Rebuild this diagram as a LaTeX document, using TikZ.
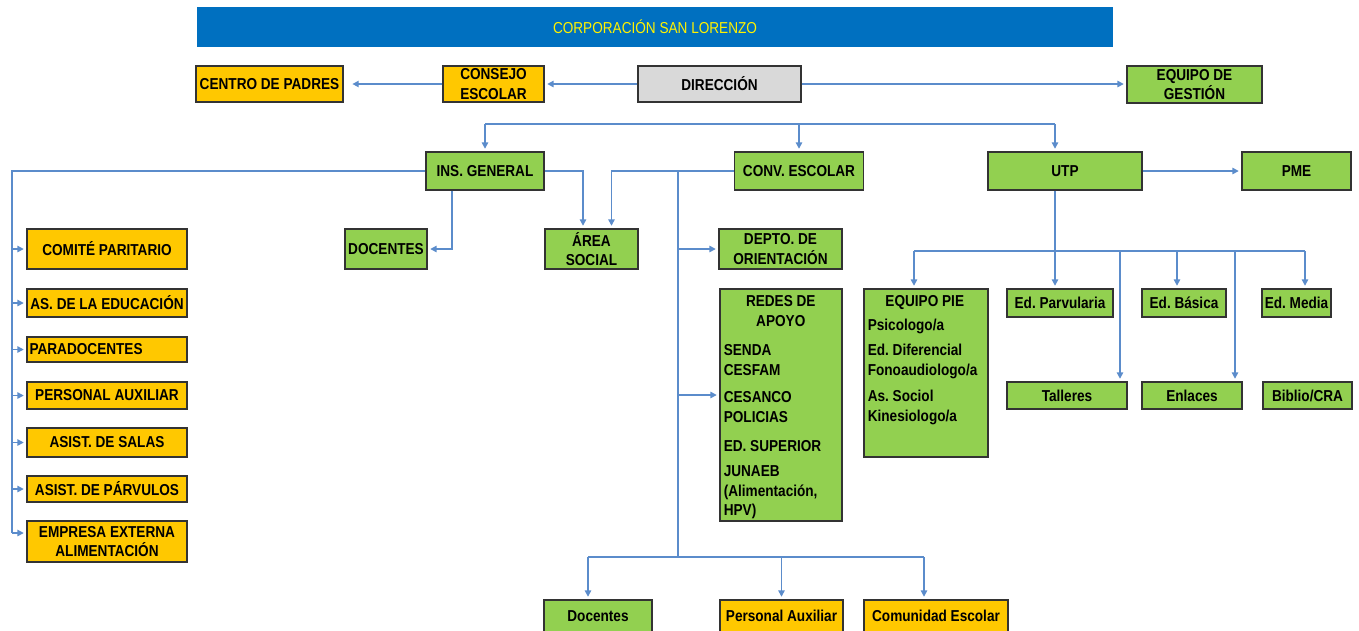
\documentclass[tikz,border=0pt]{standalone}
\usepackage{fontspec}
\setmainfont{Liberation Sans}[FakeStretch=0.86]
\usetikzlibrary{arrows.meta,calc}
\definecolor{OrgBlue}{HTML}{0070C0}
\definecolor{OrgYel}{HTML}{FFC800}
\definecolor{OrgGrn}{HTML}{92D050}
\definecolor{OrgGry}{HTML}{D9D9D9}
\definecolor{OrgLine}{HTML}{5B8CCB}
\frenchspacing

\begin{document}
\begin{tikzpicture}[
  x=0.02cm,y=-0.02cm,
  font=\bfseries\fontsize{9}{11}\selectfont,
  b/.style={draw=black!80,line width=0.7pt,inner sep=1pt,align=center,text=black},
  yel/.style={b,fill=OrgYel},
  grn/.style={b,fill=OrgGrn},
  gris/.style={b,fill=OrgGry},
  list/.style={anchor=north west,align=left,inner xsep=2.3pt,inner ysep=3.8pt,
    text width=2.28cm,font=\bfseries\fontsize{9}{11.3}\selectfont},
  ln/.style={draw=OrgLine,line width=0.8pt},
  ar/.style={ln,-{Triangle[length=3.6pt,width=3.6pt]},shorten >=1.5pt},
]
\useasboundingbox (0,0) rectangle (1359,630);
% header and top row
\node[fill=OrgBlue,minimum width=18.32cm,minimum height=0.8cm,text=yellow,
  font=\fontsize{9}{11}\selectfont] (corp) at (655,27) {CORPORACIÓN SAN LORENZO};
\node[yel,minimum width=2.94cm,minimum height=0.72cm] (padres) at (269.5,84) {CENTRO DE PADRES};
\node[yel,minimum width=2.02cm,minimum height=0.72cm] (consejo) at (493.5,84) {CONSEJO\\ESCOLAR};
\node[gris,minimum width=3.26cm,minimum height=0.72cm] (direccion) at (719.5,84) {DIRECCIÓN};
\node[grn,minimum width=2.70cm,minimum height=0.74cm] (gestion) at (1194.5,84.5) {EQUIPO DE\\GESTIÓN};
% second row
\node[grn,minimum width=2.36cm,minimum height=0.76cm] (insgen) at (485,171) {INS. GENERAL};
\node[grn,minimum width=2.58cm,minimum height=0.76cm] (conv) at (799,171) {CONV. ESCOLAR};
\node[grn,minimum width=3.08cm,minimum height=0.76cm] (utp) at (1065,171) {UTP};
\node[grn,minimum width=2.18cm,minimum height=0.76cm] (pme) at (1296.5,171) {PME};
% staff column on the left
\node[yel,minimum width=3.2cm,minimum height=0.80cm] (comite) at (107,249) {COMITÉ PARITARIO};
\node[yel,minimum width=3.2cm,minimum height=0.56cm] (aseduc) at (107,303) {AS. DE LA EDUCACIÓN};
\node[yel,text width=3.1cm,inner xsep=0.05cm,align=left,minimum height=0.50cm] (paradoc) at (107,349.5) {PARADOCENTES};
\node[yel,minimum width=3.2cm,minimum height=0.54cm] (persaux) at (107,395.5) {PERSONAL AUXILIAR};
\node[yel,minimum width=3.2cm,minimum height=0.58cm] (salas) at (107,442.5) {ASIST. DE SALAS};
\node[yel,minimum width=3.2cm,minimum height=0.52cm] (parvulos) at (107,489) {ASIST. DE PÁRVULOS};
\node[yel,minimum width=3.2cm,minimum height=0.82cm] (empresa) at (107,541.5) {EMPRESA EXTERNA\\ALIMENTACIÓN};
% middle
\node[grn,minimum width=1.64cm,minimum height=0.8cm] (docentes) at (386,249) {DOCENTES};
\node[grn,minimum width=1.86cm,minimum height=0.8cm] (area) at (591.5,249) {ÁREA\\SOCIAL};
\node[grn,minimum width=2.46cm,minimum height=0.8cm] (depto) at (780.5,249) {DEPTO. DE\\ORIENTACIÓN};
\node[grn,minimum width=2.44cm,minimum height=4.64cm] (redes) at (781,405) {};
\node[list] (redes-t) at (redes.north west)
  {\spaceskip0pt\xspaceskip0pt{\centering REDES DE\\APOYO\par}\vspace{5.5pt}SENDA\\CESFAM\\[4pt]CESANCO\\POLICIAS\\[5pt]ED. SUPERIOR\\[3pt]JUNAEB\\(Alimentación,\\HPV)};
\node[grn,minimum width=2.48cm,minimum height=3.36cm] (pie) at (926,373) {};
\node[list] (pie-t) at (pie.north west)
  {\spaceskip0pt\xspaceskip0pt{\centering EQUIPO PIE\par}\vspace{2.3pt}Psicologo/a\\[2.8pt]Ed. Diferencial\\Fonoaudiologo/a\\[4pt]As. Sociol\\Kinesiologo/a};
% UTP levels
\node[grn,minimum width=2.12cm,minimum height=0.56cm] (parv) at (1060,303) {Ed. Parvularia};
\node[grn,minimum width=1.68cm,minimum height=0.56cm] (basica) at (1184,303) {Ed. Básica};
\node[grn,minimum width=1.38cm,minimum height=0.56cm] (media) at (1296.5,303) {Ed. Media};
\node[grn,minimum width=2.40cm,minimum height=0.54cm] (talleres) at (1067,395.5) {Talleres};
\node[grn,minimum width=2.00cm,minimum height=0.54cm] (enlaces) at (1192,395.5) {Enlaces};
\node[grn,minimum width=1.78cm,minimum height=0.54cm] (biblio) at (1307.5,395.5) {Biblio/CRA};
% bottom row
\node[grn,minimum width=2.16cm,minimum height=0.64cm] (bdoc) at (598,616) {Docentes};
\node[yel,minimum width=2.46cm,minimum height=0.64cm] (bpers) at (781.5,616) {Personal Auxiliar};
\node[yel,minimum width=2.88cm,minimum height=0.64cm] (bcom) at (936,616) {Comunidad Escolar};

% bus points
\coordinate (busT-l) at (485,124);
\coordinate (busT-r) at (1055,124);
\coordinate (busL) at (12,171);
\coordinate (busL-end) at (12,533);
\coordinate (trunk) at (678,171);
\coordinate (trunk-end) at (678,557);
\coordinate (tapR) at (678,395);
\coordinate (busB-l) at (588,557);
\coordinate (busB-r) at (924,557);
\coordinate (busU-l) at (914,251);
\coordinate (busU-r) at (1305,251);
\coordinate (tapT) at (1120,251);
\coordinate (tapB) at (1177,251);
\coordinate (tapE) at (1235,251);

\draw[ar] (direccion) -- (consejo);
\draw[ar,shorten >=5pt] (consejo) -- (padres);
\draw[ar] (direccion.east) -- (direccion.east -| gestion.west);
\draw[ln] (busT-l) -- (busT-r);
\draw[ar] (busT-l) -- (insgen.north);
\draw[ar] (busT-l -| conv.north) -- (conv.north);
\draw[ar] (busT-r) -- (busT-r |- utp.north);
\draw[ar] (utp) -- (pme);
% left column
\draw[ln] (insgen.west) -- (busL) -- (busL-end);
\draw[ar] (busL |- comite.west) -- (comite.west);
\draw[ar] (busL |- aseduc.west) -- (aseduc.west);
\draw[ar] (busL |- paradoc.west) -- (paradoc.west);
\draw[ar] (busL |- persaux.west) -- (persaux.west);
\draw[ar] (busL |- salas.west) -- (salas.west);
\draw[ar] (busL |- parvulos.west) -- (parvulos.west);
\draw[ar] (busL-end) -- (busL-end -| empresa.west);
\draw[ar] ([xshift=-0.66cm]insgen.south) |- (docentes.east);
\draw[ar] (insgen.east) -| ([xshift=-0.17cm]area.north);
\draw[ar] (conv.west) -| ([xshift=0.4cm]area.north);
% convivencia trunk
\draw[ln] (trunk) -- (trunk-end);
\draw[ar] (trunk |- depto.west) -- (depto.west);
\draw[ar] (tapR) -- (tapR -| redes.west);
\draw[ln] (busB-l) -- (busB-r);
\draw[ar] (busB-l) -- (busB-l |- bdoc.north);
\draw[ar] (busB-l -| bpers.north) -- (bpers.north);
\draw[ar] (busB-r) -- (busB-r |- bcom.north);
% UTP branches
\draw[ln] (busT-r |- utp.south) -- (busT-r |- busU-l);
\draw[ln] (busU-l) -- (busU-r);
\draw[ar] (busU-l) -- (busU-l |- pie.north);
\draw[ar] (busT-r |- busU-l) -- (busT-r |- parv.north);
\draw[ar] (tapT) -- (tapT |- talleres.north);
\draw[ar] (tapB) -- (tapB |- basica.north);
\draw[ar] (tapE) -- (tapE |- enlaces.north);
\draw[ar] (busU-r) -- (busU-r |- media.north);
\end{tikzpicture}
\end{document}
